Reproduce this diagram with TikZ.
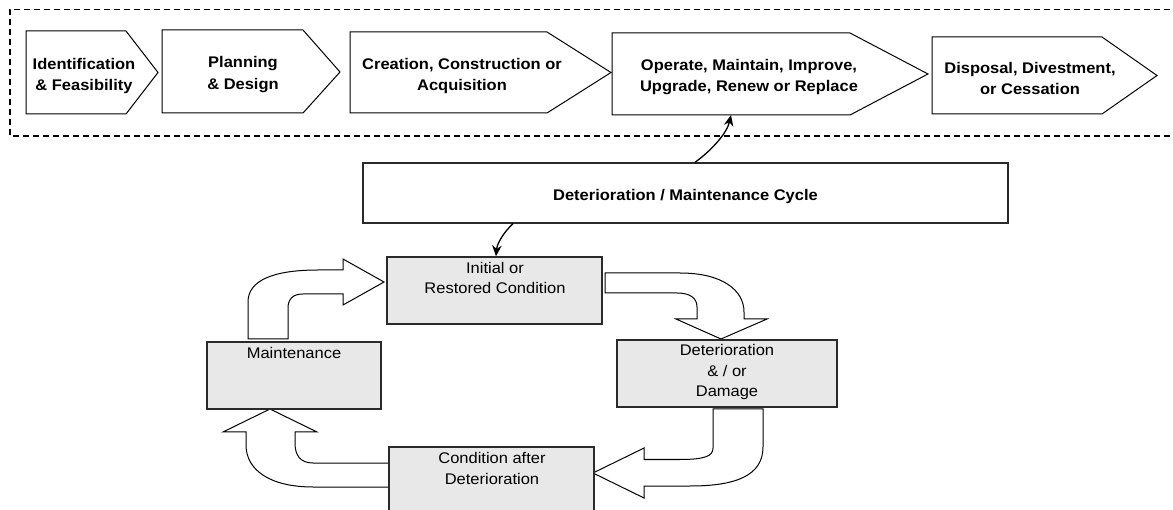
\documentclass[tikz,border=0pt]{standalone}
\usepackage{fontspec}
\setmainfont{Liberation Sans}[FakeStretch=1.07]
\usetikzlibrary{arrows.meta}
\definecolor{boxgray}{HTML}{E8E8E8}
\definecolor{edgegray}{HTML}{2A2A2A}
\begin{document}
\begin{tikzpicture}[x=1pt,y=-1pt,
  chev/.style={draw=black, line width=1pt, fill=white, line join=miter},
  ttl/.style={font=\bfseries\fontsize{15.4}{21.5}\selectfont, align=center, inner sep=0pt},
  gbox/.style={draw=edgegray, line width=1.3pt, fill=boxgray, inner sep=0pt},
  wbox/.style={draw=edgegray, line width=1.3pt, fill=white, inner sep=0pt},
  lbl/.style={font=\fontsize{15.4}{20.5}\selectfont, align=center, inner sep=0pt},
  blk/.style={draw=black, line width=1pt, fill=white, line join=miter},
  conn/.style={draw=black, line width=1.3pt, -{Stealth[length=11pt,width=9.5pt]}},
  frame/.style={draw=black, line width=1.4pt, dash pattern=on 6pt off 4pt}
]
\useasboundingbox (0,0) rectangle (1173,510);

% dashed life-cycle frame (open to the right)
\draw[frame] (1180,9.5) -- (10,9.5) -- (10,136) -- (1180,136);

% life-cycle chevrons
\draw[chev] (26,31) -- (126,31) -- (158,72.5) -- (126,114) -- (26,114) -- cycle;
\draw[chev] (162,30) -- (303,30) -- (340,72) -- (303,113) -- (162,113) -- cycle;
\draw[chev] (350,32) -- (547,32) -- (611,72.5) -- (547,113) -- (350,113) -- cycle;
\draw[chev] (612,33) -- (850,33) -- (928,74) -- (850,115) -- (612,115) -- cycle;
\draw[chev] (932,37) -- (1102,37) -- (1157,75.5) -- (1102,114) -- (932,114) -- cycle;
\coordinate (opb) at (731,115);

\node[ttl, anchor=base] (t1) at (84,91) {Identification\\\& Feasibility};
\node[ttl, anchor=base] (t2) at (243,89.5) {Planning\\\& Design};
\node[ttl, anchor=base] (t3) at (462,91) {Creation, Construction or\\Acquisition};
\node[ttl, anchor=base] (t4) at (749,92) {Operate, Maintain, Improve,\\Upgrade, Renew or Replace};
\node[ttl, anchor=base] (t5) at (1030,95) {Disposal, Divestment,\\or Cessation};

% cycle box
\node[wbox, minimum width=645pt, minimum height=60pt] (cyc) at (685.5,193) {};
\node[ttl, anchor=base] (cyct) at (685.5,201) {Deterioration / Maintenance Cycle};

% block arrows
\draw[blk] (248,339) -- (248,302) .. controls (248,281) and (272,270) .. (318,270)
  -- (343,270) -- (343,259) -- (384,282) -- (343,305) -- (343,294) -- (303,294)
  .. controls (293,294) and (288,299) .. (288,308) -- (288,339) -- cycle;
\draw[blk] (605,273) -- (680,273) .. controls (722,273) and (744,290) .. (744,312)
  -- (744,319) -- (767,319) -- (721,339) -- (676,319) -- (697,319) -- (697,307)
  .. controls (697,298) and (690,293) .. (677,293) -- (605,293) -- cycle;
\draw[blk] (713,409) -- (763,409) -- (763,447) .. controls (763,476) and (735,486) .. (690,486)
  -- (644,486) -- (644,498) -- (593,473) -- (644,448) -- (644,459.5) -- (680,459.5)
  .. controls (705,459.5) and (713,456) .. (713,448) -- cycle;
\draw[blk] (389,463) -- (313,463) .. controls (300,463) and (295,455) .. (295,443)
  -- (295,432) -- (317,432) -- (270,409) -- (223,432) -- (246,432) -- (246,445)
  .. controls (246,470) and (270,487) .. (313,487) -- (389,487) -- cycle;

% cycle boxes
\node[gbox, minimum width=215pt, minimum height=67pt] (init) at (494.5,290.5) {};
\node[gbox, minimum width=174pt, minimum height=67pt] (maint) at (294,375.5) {};
\node[gbox, minimum width=220pt, minimum height=67pt] (det) at (727,373.5) {};
\node[gbox, minimum width=205pt, minimum height=67pt] (cond) at (491.5,480.5) {};

\node[lbl, anchor=base] (initt) at (495,294) {Initial or\\Restored Condition};
\node[lbl, anchor=base] (maintt) at (294,359) {Maintenance};
\node[lbl, anchor=base] (dett) at (727,397) {Deterioration\\\& / or\\Damage};
\node[lbl, anchor=base] (condt) at (492,484) {Condition after\\Deterioration};

% connectors
\draw[conn] ([xshift=9.5pt]cyc.north) .. controls (712,150) and (727,133) .. (opb);
\draw[conn] ([xshift=-172.5pt]cyc.south) .. controls (503,233) and (497,244) .. ([xshift=1.5pt]init.north);
\end{tikzpicture}
\end{document}
